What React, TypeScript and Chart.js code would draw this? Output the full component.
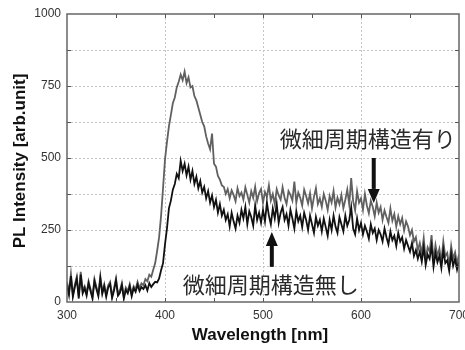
import React, { useEffect, useRef } from "react";
import { Chart, registerables } from "chart.js";

Chart.register(...registerables);

const WAVELENGTH: number[] = [
  300, 302, 304, 306, 308, 310, 312, 314, 316, 318,
  320, 322, 324, 326, 328, 330, 332, 334, 336, 338,
  340, 342, 344, 346, 348, 350, 352, 354, 356, 358,
  360, 362, 364, 366, 368, 370, 372, 374, 376, 378,
  380, 382, 384, 386, 388, 390, 392, 394, 396, 398,
  400, 402, 404, 406, 408, 410, 412, 414, 416, 418,
  420, 422, 424, 426, 428, 430, 432, 434, 436, 438,
  440, 442, 444, 446, 448, 450, 452, 454, 456, 458,
  460, 462, 464, 466, 468, 470, 472, 474, 476, 478,
  480, 482, 484, 486, 488, 490, 492, 494, 496, 498,
  500, 502, 504, 506, 508, 510, 512, 514, 516, 518,
  520, 522, 524, 526, 528, 530, 532, 534, 536, 538,
  540, 542, 544, 546, 548, 550, 552, 554, 556, 558,
  560, 562, 564, 566, 568, 570, 572, 574, 576, 578,
  580, 582, 584, 586, 588, 590, 592, 594, 596, 598,
  600, 602, 604, 606, 608, 610, 612, 614, 616, 618,
  620, 622, 624, 626, 628, 630, 632, 634, 636, 638,
  640, 642, 644, 646, 648, 650, 652, 654, 656, 658,
  660, 662, 664, 666, 668, 670, 672, 674, 676, 678,
  680, 682, 684, 686, 688, 690, 692, 694, 696, 698,
  700,
];

// 微細周期構造有り (gray)
const WITH_STRUCTURE: number[] = [
  70, 35, 98, 25, 60, 88, 20, 105, 40, 55,
  30, 72, 45, 18, 80, 52, 28, 90, 35, 62,
  25, 58, 70, 20, 48, 82, 30, 40, 66, 18,
  50, 38, 62, 28, 55, 44, 70, 48, 65, 58,
  80, 72, 95, 88, 112, 135, 178, 225, 300, 395,
  495, 555, 610, 650, 690, 710, 745, 765, 790, 770,
  800, 760, 780, 745, 750, 715, 700, 675, 650, 625,
  610, 575, 550, 530, 585, 480, 470, 438, 425, 405,
  400, 375, 392, 360, 388, 372, 350, 395, 368, 380,
  355, 398, 372, 345, 385, 362, 400, 350, 378, 392,
  345, 382, 365, 405, 352, 375, 340, 392, 370, 355,
  398, 362, 340, 385, 372, 352, 418, 345, 380, 362,
  335, 390, 368, 342, 378, 325, 365, 395, 340, 360,
  330, 375, 352, 320, 368, 345, 385, 328, 362, 340,
  372, 325, 355, 390, 338, 430, 350, 318, 385, 345,
  360, 320, 375, 335, 308, 352, 330, 298, 345, 310,
  330, 285, 318, 295, 275, 325, 282, 305, 262, 298,
  270, 292, 248, 280, 262, 232, 250, 210, 225, 180,
  205, 168, 222, 150, 190, 175, 232, 142, 198, 160,
  185, 140, 210, 158, 170, 128, 195, 150, 172, 132,
  165,
];

// 微細周期構造無し (black)
const WITHOUT_STRUCTURE: number[] = [
  60, 25, 90, 18, 52, 80, 12, 95, 30, 48,
  22, 65, 38, 12, 72, 45, 20, 82, 28, 55,
  18, 50, 62, 14, 40, 75, 22, 32, 58, 12,
  42, 30, 55, 20, 48, 35, 60, 38, 52, 45,
  58, 40, 66, 52, 62, 70, 68, 82, 110, 135,
  200, 255, 325, 352, 390, 410, 445, 430, 490, 455,
  480, 440, 470, 425, 455, 410, 435, 395, 420, 380,
  400, 360, 385, 345, 370, 330, 355, 310, 340, 300,
  320, 285, 305, 262, 310, 280, 255, 300, 275, 320,
  290, 330, 270, 315, 295, 265, 335, 285, 310, 275,
  320, 280, 345, 300, 270, 325, 290, 340, 275, 310,
  330, 285, 305, 265, 320, 290, 255, 315, 280, 300,
  260, 310, 285, 250, 300, 270, 240, 295, 265, 285,
  245, 290, 260, 230, 285, 250, 300, 262, 240, 295,
  270, 245, 300, 265, 285, 330, 255, 235, 290, 250,
  275, 235, 265, 245, 220, 270, 240, 255, 215, 250,
  235, 210, 255, 225, 200, 245, 215, 230, 195, 240,
  210, 225, 185, 215, 195, 175, 205, 160, 180, 150,
  175, 140, 190, 128, 165, 150, 195, 122, 170, 138,
  160, 118, 180, 135, 145, 108, 168, 125, 150, 112,
  140,
];

const X_MIN = 300;
const X_MAX = 700;
const Y_MIN = 0;
const Y_MAX = 1000;
const X_LABEL_STEP = 100;
const Y_LABEL_STEP = 250;
const X_GRID_STEP = 100;
const Y_GRID_STEP = 125;
const MINOR_X_STEP = 50;

const X_TITLE = "Wavelength [nm]";
const Y_TITLE = "PL Intensity [arb.unit]";

// annotations in data coordinates
const LABEL_WITH = { text: "微細周期構造有り", x: 607, y: 566 };
const LABEL_WITHOUT = { text: "微細周期構造無し", x: 508, y: 59 };
const ARROW_DOWN = { x: 613, from: 500, to: 344 };
const ARROW_UP = { x: 509, from: 122, to: 243 };

const frame = {
  id: "frame",
  beforeDatasetsDraw(chart: any) {
    const { ctx, chartArea: a, scales } = chart;
    const xs = scales.x;
    const ys = scales.y;
    ctx.save();
    ctx.strokeStyle = "#c6c6c6";
    ctx.lineWidth = 1;
    ctx.setLineDash([2, 2]);
    for (let v = X_MIN + X_GRID_STEP; v < X_MAX; v += X_GRID_STEP) {
      const px = Math.round(xs.getPixelForValue(v)) + 0.5;
      ctx.beginPath();
      ctx.moveTo(px, a.top);
      ctx.lineTo(px, a.bottom);
      ctx.stroke();
    }
    for (let v = Y_MIN + Y_GRID_STEP; v < Y_MAX; v += Y_GRID_STEP) {
      const py = Math.round(ys.getPixelForValue(v)) + 0.5;
      ctx.beginPath();
      ctx.moveTo(a.left, py);
      ctx.lineTo(a.right, py);
      ctx.stroke();
    }
    ctx.restore();
  },
  afterDraw(chart: any) {
    const { ctx, chartArea: a, scales } = chart;
    const xs = scales.x;
    const ys = scales.y;
    ctx.save();
    // ticks inward
    ctx.strokeStyle = "#555";
    ctx.lineWidth = 1;
    for (let v = X_MIN + MINOR_X_STEP; v < X_MAX; v += MINOR_X_STEP) {
      const px = Math.round(xs.getPixelForValue(v)) + 0.5;
      ctx.beginPath();
      ctx.moveTo(px, a.bottom);
      ctx.lineTo(px, a.bottom - 4);
      ctx.moveTo(px, a.top);
      ctx.lineTo(px, a.top + 4);
      ctx.stroke();
    }
    for (let v = Y_MIN + Y_GRID_STEP; v < Y_MAX; v += Y_GRID_STEP) {
      const py = Math.round(ys.getPixelForValue(v)) + 0.5;
      ctx.beginPath();
      ctx.moveTo(a.left, py);
      ctx.lineTo(a.left + 4, py);
      ctx.moveTo(a.right, py);
      ctx.lineTo(a.right - 4, py);
      ctx.stroke();
    }
    // border
    ctx.strokeStyle = "#666";
    ctx.lineWidth = 1.5;
    ctx.strokeRect(a.left, a.top, a.right - a.left, a.bottom - a.top);

    // axis titles
    ctx.fillStyle = "#111";
    ctx.font = 'bold 17px "Liberation Sans", Arial, sans-serif';
    ctx.textAlign = "center";
    ctx.textBaseline = "middle";
    ctx.fillText(X_TITLE, (a.left + a.right) / 2 - 3, a.bottom + 33);
    ctx.save();
    ctx.translate(20, (a.top + a.bottom) / 2 + 3);
    ctx.rotate(-Math.PI / 2);
    ctx.fillText(Y_TITLE, 0, 0);
    ctx.restore();

    // Japanese labels
    ctx.fillStyle = "#2a2a2a";
    ctx.font = '22px "Noto Sans CJK JP", sans-serif';
    for (const l of [LABEL_WITH, LABEL_WITHOUT]) {
      ctx.fillText(l.text, xs.getPixelForValue(l.x), ys.getPixelForValue(l.y));
    }

    // arrows
    const drawArrow = (ar: { x: number; from: number; to: number }) => {
      const px = xs.getPixelForValue(ar.x);
      const y0 = ys.getPixelForValue(ar.from);
      const y1 = ys.getPixelForValue(ar.to);
      const dir = y1 > y0 ? 1 : -1;
      const headLen = 14;
      const headHalf = 6;
      ctx.strokeStyle = "#111";
      ctx.fillStyle = "#111";
      ctx.lineWidth = 4;
      ctx.beginPath();
      ctx.moveTo(px, y0);
      ctx.lineTo(px, y1 - dir * headLen);
      ctx.stroke();
      ctx.beginPath();
      ctx.moveTo(px, y1);
      ctx.lineTo(px - headHalf, y1 - dir * headLen);
      ctx.lineTo(px + headHalf, y1 - dir * headLen);
      ctx.closePath();
      ctx.fill();
    };
    drawArrow(ARROW_DOWN);
    drawArrow(ARROW_UP);
    ctx.restore();
  },
};

export default function App() {
  const ref = useRef<HTMLCanvasElement | null>(null);
  useEffect(() => {
    if (!ref.current) return;
    const toPts = (ys: number[]) => WAVELENGTH.map((x, i) => ({ x, y: ys[i] }));
    const chart = new Chart(ref.current, {
      type: "line",
      data: {
        datasets: [
          {
            label: "微細周期構造無し",
            data: toPts(WITHOUT_STRUCTURE),
            borderColor: "#111",
            borderWidth: 1.8,
            pointRadius: 0,
            tension: 0,
            fill: false,
          },
          {
            label: "微細周期構造有り",
            data: toPts(WITH_STRUCTURE),
            borderColor: "#606060",
            borderWidth: 1.8,
            pointRadius: 0,
            tension: 0,
            fill: false,
          },
        ],
      },
      options: {
        animation: false,
        responsive: false,
        maintainAspectRatio: false,
        layout: { padding: { left: 0, right: 6, top: 14, bottom: 0 } },
        plugins: { legend: { display: false }, tooltip: { enabled: false } },
        scales: {
          x: {
            type: "linear",
            min: X_MIN,
            max: X_MAX,
            afterFit: (s: any) => {
              s.height = 48;
              s.paddingLeft = 0;
              s.paddingRight = 0;
            },
            ticks: {
              stepSize: X_LABEL_STEP,
              autoSkip: false,
              maxRotation: 0,
              padding: 6,
              color: "#333",
              font: { family: '"Liberation Sans", Arial, sans-serif', size: 12 },
              callback: (v: any) => String(v),
            },
            grid: { display: false, drawTicks: false },
            border: { display: false },
          },
          y: {
            type: "linear",
            min: Y_MIN,
            max: Y_MAX,
            afterFit: (s: any) => {
              s.width = 67;
              s.paddingTop = 0;
              s.paddingBottom = 0;
            },
            ticks: {
              stepSize: Y_LABEL_STEP,
              autoSkip: false,
              padding: 6,
              color: "#333",
              font: { family: '"Liberation Sans", Arial, sans-serif', size: 12 },
              callback: (v: any) => String(v),
            },
            grid: { display: false, drawTicks: false },
            border: { display: false },
          },
        },
      },
      plugins: [frame],
    });
    return () => chart.destroy();
  }, []);
  return (
    <div style={{ position: "absolute", left: 0, top: 0, width: 465, height: 350, background: "#fff" }}>
      <canvas ref={ref} width={465} height={350} style={{ display: "block" }} />
    </div>
  );
}
